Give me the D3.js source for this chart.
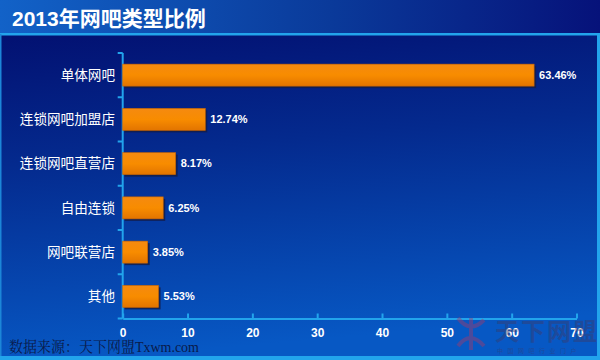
<!DOCTYPE html>
<html><head><meta charset="utf-8">
<script src="https://cdn.jsdelivr.net/npm/d3@7"></script>
<style>html,body{margin:0;padding:0;background:#fff;}svg{display:block;}</style>
</head><body>
<script>
const title = "2013年网吧类型比例";
const categories = ["单体网吧","连锁网吧加盟店","连锁网吧直营店","自由连锁","网吧联营店","其他"];
const values = [63.46, 12.74, 8.17, 6.25, 3.85, 5.53];
const valueLabels = ["63.46%","12.74%","8.17%","6.25%","3.85%","5.53%"];
const xTicks = [0,10,20,30,40,50,60,70];
const source = "数据来源：天下网盟Txwm.com";

const W = 600, H = 360;
const svg = d3.select("body").append("svg").attr("width", W).attr("height", H);
const defs = svg.append("defs");

const bg = defs.append("linearGradient").attr("id","bg").attr("x1",0).attr("y1",0).attr("x2",0.15).attr("y2",1);
bg.append("stop").attr("offset","0%").attr("stop-color","#020a6a");
bg.append("stop").attr("offset","45%").attr("stop-color","#042a8e");
bg.append("stop").attr("offset","100%").attr("stop-color","#0758c4");

const tb = defs.append("linearGradient").attr("id","tb").attr("x1",0).attr("y1",0).attr("x2",1).attr("y2",0);
tb.append("stop").attr("offset","0%").attr("stop-color","#1262c8");
tb.append("stop").attr("offset","55%").attr("stop-color","#0a3a9a");
tb.append("stop").attr("offset","100%").attr("stop-color","#06127a");

const barG = defs.append("linearGradient").attr("id","barg").attr("x1",0).attr("y1",0).attr("x2",0).attr("y2",1);
barG.append("stop").attr("offset","0%").attr("stop-color","#f58a10");
barG.append("stop").attr("offset","50%").attr("stop-color","#f88c00");
barG.append("stop").attr("offset","100%").attr("stop-color","#e27400");

// backgrounds
svg.append("rect").attr("x",0).attr("y",0).attr("width",W).attr("height",H).attr("fill","url(#bg)");
svg.append("rect").attr("x",0).attr("y",0).attr("width",W).attr("height",34).attr("fill","url(#tb)");
svg.append("rect").attr("x",0).attr("y",33).attr("width",W).attr("height",2.5).attr("fill","#22a4ec");
svg.append("rect").attr("x",597).attr("y",34).attr("width",3).attr("height",H-34).attr("fill","#22a4ec");
svg.append("rect").attr("x",0).attr("y",34).attr("width",1.5).attr("height",H-34).attr("fill","#1c86d8");
svg.append("rect").attr("x",0).attr("y",356).attr("width",W).attr("height",4).attr("fill","#22a4ec");

svg.append("text").attr("x",12).attr("y",26).attr("fill","#ffffff")
  .attr("font-family","Arial, 'Noto Sans CJK SC', sans-serif").attr("font-weight","bold").attr("font-size",21)
  .text(title);

const x0 = 122.7, x1 = 576.5, yTop = 53, yBot = 318.5;
const x = d3.scaleLinear().domain([0,70]).range([x0,x1]);
const yb = d3.scaleBand().domain(categories).range([yTop,yBot]);

// axis lines
const axColor = "#22a4ec";
const xAxis = d3.axisBottom(x).tickValues(xTicks).tickSize(-5).tickSizeOuter(0).tickPadding(8);
const gx = svg.append("g").attr("transform",`translate(0,${yBot})`).call(xAxis);
gx.select(".domain").attr("stroke",axColor).attr("stroke-width",2);
gx.selectAll(".tick line").attr("stroke",axColor).attr("stroke-width",2);
gx.selectAll(".tick text").attr("fill","#ffffff").attr("font-family","Arial, sans-serif")
  .attr("font-weight","bold").attr("font-size",12).attr("dy","0.9em");

svg.append("line").attr("x1",x0).attr("x2",x0).attr("y1",yTop).attr("y2",yBot).attr("stroke",axColor).attr("stroke-width",2);
const sep = d3.range(categories.length+1).map(i => yTop + i*yb.step());
svg.selectAll(".ysep").data(sep).join("line")
  .attr("x1",x0-5).attr("x2",x0).attr("y1",d=>d).attr("y2",d=>d).attr("stroke",axColor).attr("stroke-width",2);

// bars
const bh = 22;
const bars = svg.append("g");
categories.forEach((c,i) => {
  const cy = yb(c) + yb.bandwidth()/2;
  bars.append("rect").attr("x",x(0)+2).attr("y",cy-bh/2+2).attr("width",x(values[i])-x(0)).attr("height",bh)
    .attr("fill","#141d4a").attr("opacity",0.85);
  bars.append("rect").attr("x",x(0)).attr("y",cy-bh/2).attr("width",x(values[i])-x(0)).attr("height",bh)
    .attr("fill","url(#barg)").attr("stroke","#c86400").attr("stroke-width",0.6);
  svg.append("text").attr("x",x(values[i])+5).attr("y",cy).attr("dy","0.35em")
    .attr("fill","#ffffff").attr("font-family","Arial, sans-serif").attr("font-weight","bold").attr("font-size",11)
    .text(valueLabels[i]);
  svg.append("text").attr("x",115).attr("y",cy).attr("dy","0.35em").attr("text-anchor","end")
    .attr("fill","#ffffff").attr("font-family","'Noto Sans CJK SC', sans-serif").attr("font-size",13.6)
    .text(c);
});

// watermark
const wm = svg.append("g").attr("opacity",0.45);
wm.append("text").attr("x",495).attr("y",340).attr("fill","#3a3a6a").attr("font-family","'Noto Sans CJK SC', sans-serif")
  .attr("font-weight","bold").attr("font-size",24).attr("letter-spacing",2).text("天下网盟");
wm.append("text").attr("x",497).attr("y",353).attr("fill","#3a3a6a").attr("font-family","'Noto Sans CJK SC', sans-serif")
  .attr("font-size",6).attr("letter-spacing",4.5).text("中国网吧行业门户");
wm.append("path").attr("d","M458,318 Q470,334 484,320 M458,346 Q470,330 484,346 M471,318 L471,350")
  .attr("fill","none").attr("stroke","#a23a6a").attr("stroke-width",4);

svg.append("text").attr("x",9).attr("y",352).attr("fill","#0a1a4a")
  .attr("font-family","'Liberation Serif','Noto Serif CJK SC','Noto Sans CJK SC', serif").attr("font-size",15)
  .attr("textLength",190).attr("lengthAdjust","spacingAndGlyphs")
  .text(source);
</script>
</body></html>
